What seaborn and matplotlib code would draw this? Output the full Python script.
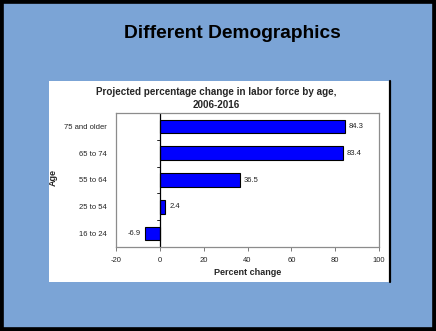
import matplotlib
matplotlib.use("Agg")
import matplotlib.pyplot as plt
from matplotlib.patches import Rectangle
from matplotlib.lines import Line2D
import pandas as pd
import seaborn as sns

# Projected percentage change in labor force by age, 2006-2016
age_groups = ["75 and older", "65 to 74", "55 to 64", "25 to 54", "16 to 24"]
pct_change = [84.3, 83.4, 36.5, 2.4, -6.9]
x_ticks = [-20, 0, 20, 40, 60, 80, 100]

df = pd.DataFrame({"Age": age_groups, "Percent change": pct_change})

sns.set_theme(style="white")
plt.rcParams["font.family"] = ["Liberation Sans", "DejaVu Sans"]

W, H = 436, 331
fig = plt.figure(figsize=(W / 100, H / 100), dpi=100)
fig.patch.set_facecolor("#7ba4d6")

def fx(px):
    return px / W

def fy(py):
    return 1 - py / H

# white chart panel with a dark right edge
fig.add_artist(Rectangle((fx(49), fy(282)), fx(340), (282 - 81) / H,
                         transform=fig.transFigure, facecolor="white",
                         edgecolor="none", zorder=0))
fig.add_artist(Line2D([fx(390), fx(390)], [fy(81), fy(282)],
                      transform=fig.transFigure, color="black", lw=1.6))

# outer frame
fig.add_artist(Rectangle((0, 0), 1, 1, transform=fig.transFigure,
                         facecolor="none", edgecolor="black", lw=5.5))

fig.text(fx(232), fy(34), "Different Demographics", ha="center", va="center",
         fontsize=13.8, fontweight="bold", color="black")

ax = fig.add_axes([fx(116), fy(247), fx(379 - 116), (247 - 113) / H])
ax.set_facecolor("white")

sns.barplot(data=df, y="Age", x="Percent change", order=age_groups,
            orient="h", width=0.5, color="#0000ff", saturation=1,
            edgecolor="black", linewidth=0.8, ax=ax)

ax.set_xlim(-20, 100)
ax.set_ylim(4.5, -0.5)
ax.set_xticks(x_ticks)
ax.set_xticklabels([str(t) for t in x_ticks])

ax.axvline(0, color="black", lw=0.9, zorder=1)
for b in [0.5, 1.5, 2.5, 3.5]:
    ax.plot([-1.1, 0], [b, b], color="black", lw=0.6)

for sp in ax.spines.values():
    sp.set_color("#8c8c8c")
    sp.set_linewidth(0.9)

ax.tick_params(axis="y", length=0, pad=7, labelsize=5.5, labelcolor="#222222")
ax.tick_params(axis="x", length=3, width=0.6, color="#666666", direction="out",
               pad=4, labelsize=5.5, labelcolor="#222222", bottom=True)

ax.bar_label(ax.containers[0], fmt="%.1f", padding=3, fontsize=5.5,
             color="#222222")

ax.set_xlabel("Percent change", fontsize=6.5, fontweight="bold", labelpad=3)
ax.set_ylabel("Age", fontsize=6.5, fontweight="bold")
ax.yaxis.set_label_coords((58 - 116) / (379 - 116), 0.52)

ax.set_title("Projected percentage change in labor force by age,\n2006-2016",
             fontsize=7.1, fontweight="bold", linespacing=1.45, pad=3.5,
             x=(216 - 116) / (379 - 116))

fig.savefig("out.png", dpi=100, facecolor=fig.get_facecolor())
